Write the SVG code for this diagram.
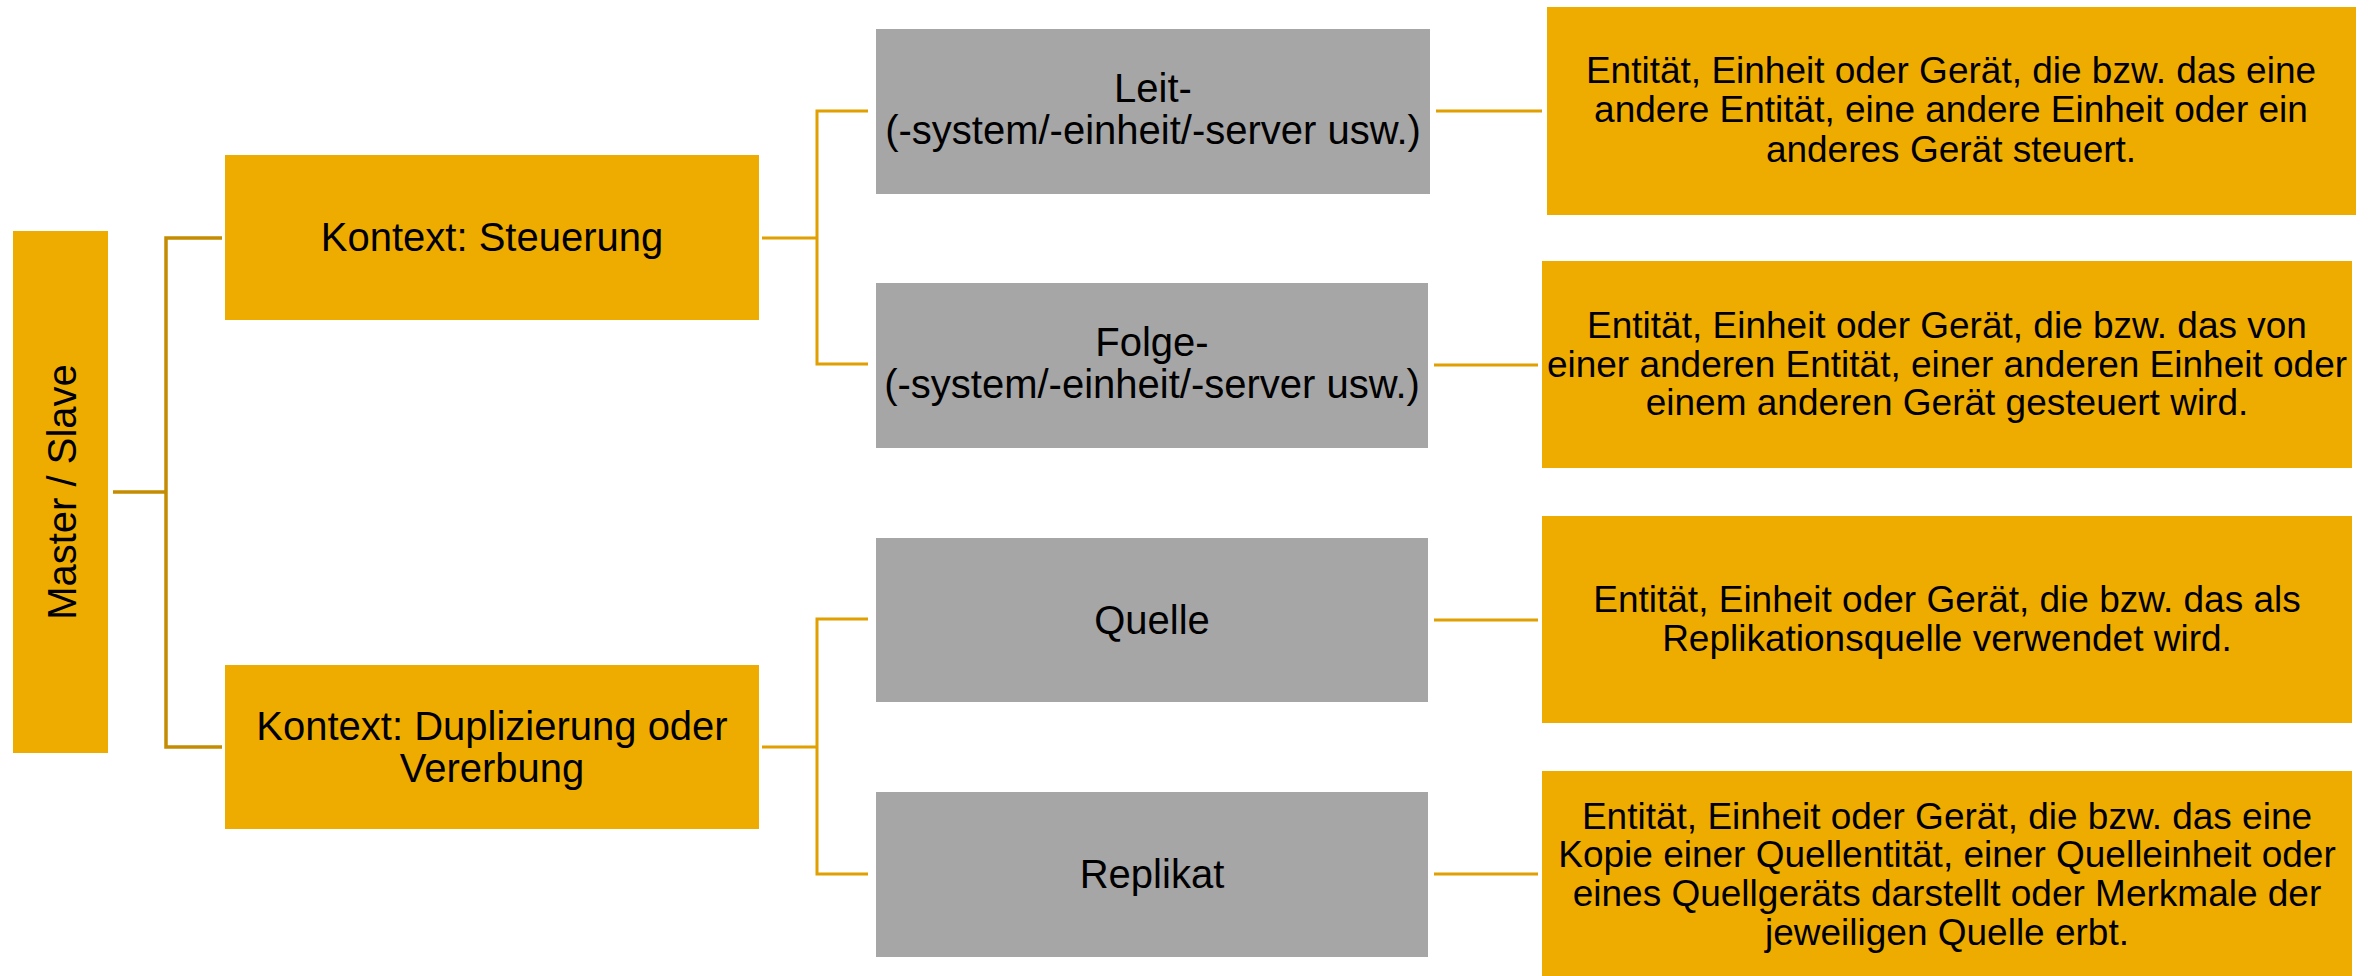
<svg xmlns="http://www.w3.org/2000/svg" width="2380" height="976" viewBox="0 0 2380 976">
  <style>
    .gold { fill: #EFAC00; }
    .grey { fill: #A6A6A6; }
    .lbl { font-family: "Liberation Sans", Arial, sans-serif; font-size: 40px; fill: #000; text-anchor: middle; }
    .desc { font-family: "Liberation Sans", Arial, sans-serif; font-size: 37px; fill: #000; text-anchor: middle; }
    .link { fill: none; stroke: #DFA000; stroke-width: 3; }
    .link-root { fill: none; stroke: #C48C00; stroke-width: 3.5; }
  </style>

  <!-- connectors -->
  <g id="connectors">
    <path class="link-root" d="M113 492 H166 M222 238 H166 V747 H222"/>
    <path class="link" d="M762 238 H817 M868 111 H817 V364 H868"/>
    <path class="link" d="M762 747 H817 M868 619 H817 V874 H868"/>
    <path class="link" d="M1436 111 H1542"/>
    <path class="link" d="M1434 365 H1538"/>
    <path class="link" d="M1434 620 H1538"/>
    <path class="link" d="M1434 874 H1538"/>
  </g>

  <!-- root -->
  <g id="master-slave">
    <rect class="gold" x="13" y="231" width="95" height="522"/>
    <text class="lbl" transform="translate(76 492) rotate(-90)" x="0" y="0">Master / Slave</text>
  </g>

  <!-- contexts -->
  <g id="kontext-steuerung">
    <rect class="gold" x="225" y="155" width="534" height="165"/>
    <text class="lbl" x="492" y="251">Kontext: Steuerung</text>
  </g>
  <g id="kontext-duplizierung">
    <rect class="gold" x="225" y="665" width="534" height="164"/>
    <text class="lbl" x="492" y="740">Kontext: Duplizierung oder</text>
    <text class="lbl" x="492" y="782">Vererbung</text>
  </g>

  <!-- terms -->
  <g id="leit">
    <rect class="grey" x="876" y="29" width="554" height="165"/>
    <text class="lbl" x="1153" y="102">Leit-</text>
    <text class="lbl" x="1153" y="144">(-system/-einheit/-server usw.)</text>
  </g>
  <g id="folge">
    <rect class="grey" x="876" y="283" width="552" height="165"/>
    <text class="lbl" x="1152" y="356">Folge-</text>
    <text class="lbl" x="1152" y="398">(-system/-einheit/-server usw.)</text>
  </g>
  <g id="quelle">
    <rect class="grey" x="876" y="538" width="552" height="164"/>
    <text class="lbl" x="1152" y="634">Quelle</text>
  </g>
  <g id="replikat">
    <rect class="grey" x="876" y="792" width="552" height="165"/>
    <text class="lbl" x="1152" y="888">Replikat</text>
  </g>

  <!-- definitions -->
  <g id="desc-leit">
    <rect class="gold" x="1547" y="7" width="809" height="208"/>
    <text class="desc" x="1951" y="83">Entität, Einheit oder Gerät, die bzw. das eine</text>
    <text class="desc" x="1951" y="122">andere Entität, eine andere Einheit oder ein</text>
    <text class="desc" x="1951" y="162">anderes Gerät steuert.</text>
  </g>
  <g id="desc-folge">
    <rect class="gold" x="1542" y="261" width="810" height="207"/>
    <text class="desc" x="1947" y="338">Entität, Einheit oder Gerät, die bzw. das von</text>
    <text class="desc" x="1947" y="377">einer anderen Entität, einer anderen Einheit oder</text>
    <text class="desc" x="1947" y="415">einem anderen Gerät gesteuert wird.</text>
  </g>
  <g id="desc-quelle">
    <rect class="gold" x="1542" y="516" width="810" height="207"/>
    <text class="desc" x="1947" y="612">Entität, Einheit oder Gerät, die bzw. das als</text>
    <text class="desc" x="1947" y="651">Replikationsquelle verwendet wird.</text>
  </g>
  <g id="desc-replikat">
    <rect class="gold" x="1542" y="771" width="810" height="205"/>
    <text class="desc" x="1947" y="829">Entität, Einheit oder Gerät, die bzw. das eine</text>
    <text class="desc" x="1947" y="867">Kopie einer Quellentität, einer Quelleinheit oder</text>
    <text class="desc" x="1947" y="906">eines Quellgeräts darstellt oder Merkmale der</text>
    <text class="desc" x="1947" y="945">jeweiligen Quelle erbt.</text>
  </g>
</svg>
